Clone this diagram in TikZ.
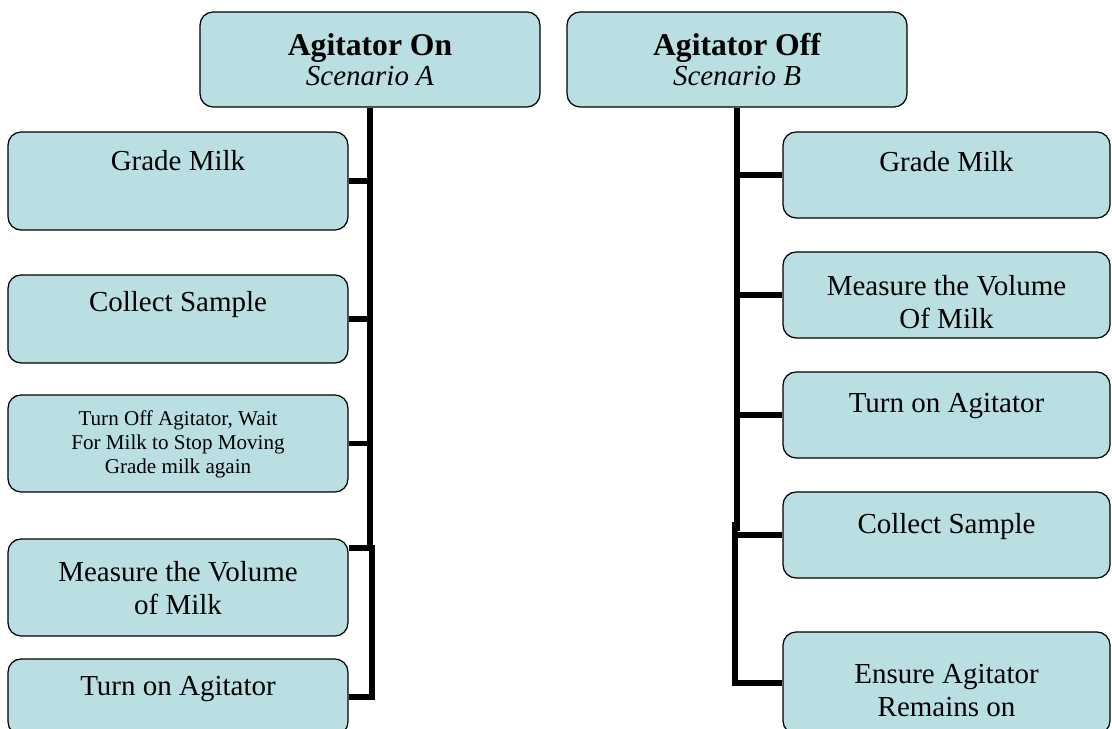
\documentclass[tikz,border=0pt]{standalone}
\usepackage{fontspec}
\setmainfont{Liberation Serif}
\usetikzlibrary{positioning}
\definecolor{boxfill}{RGB}{185,223,227}
\tikzset{stepbox/.style={draw=black, line width=0.7pt, fill=boxfill,
    rounded corners=0.26cm, minimum width=6.8cm, inner sep=0pt}}
\tikzset{steptext/.style={font=\fontsize{16.5}{18.8}\selectfont, align=center,
    inner sep=0pt}}
\tikzset{headbox/.style={stepbox, minimum height=1.9cm, align=center,
    font=\fontsize{16.5}{17}\selectfont}}
\tikzset{spine/.style={line width=3.4pt, black}}

\begin{document}
\begin{tikzpicture}[x=0.02cm, y=-0.02cm]
    \clip (0,0) rectangle (1112,729);

    %naslovi
    \node[headbox] (lhead) at (370,59.5)
        {{\fontsize{18}{17}\selectfont\bfseries Agitator On}\\
         \textit{Scenario A}};
    \node[headbox] (rhead) at (737,59.5)
        {{\fontsize{18}{17}\selectfont\bfseries Agitator Off}\\
         \textit{Scenario B}};

    %lijevo
    \node[stepbox, minimum height=1.96cm] (lgm) at (178,181) {};
    \node[stepbox, minimum height=1.76cm] (lcs) at (178,319) {};
    \node[stepbox, minimum height=1.94cm] (lto) at (178,443.5) {};
    \node[stepbox, minimum height=1.94cm] (lmv) at (178,587.5) {};
    \node[stepbox, minimum height=1.52cm] (lta) at (178,697) {};

    \node[steptext] (lgmt) at (178,161) {Grade Milk};
    \node[steptext] (lcst) at (178,305) {Collect Sample};
    \node[steptext, font=\fontsize{12}{13.7}\selectfont] (ltot) at (178,444)
        {Turn Off Agitator, Wait\\For Milk to Stop Moving\\Grade milk again};
    \node[steptext] (lmvt) at (178,588) {Measure the Volume\\of Milk};
    \node[steptext] (ltat) at (178,689) {Turn on Agitator};

    %desno
    \node[stepbox, minimum width=6.54cm, minimum height=1.72cm] (rgm) at (946.5,175) {};
    \node[stepbox, minimum width=6.54cm, minimum height=1.72cm] (rmv) at (946.5,295) {};
    \node[stepbox, minimum width=6.54cm, minimum height=1.72cm] (rta) at (946.5,415) {};
    \node[stepbox, minimum width=6.54cm, minimum height=1.72cm] (rcs) at (946.5,535) {};
    \node[stepbox, minimum width=6.54cm, minimum height=2.04cm] (ren) at (946.5,683) {};

    \node[steptext] (rgmt) at (946.5,162) {Grade Milk};
    \node[steptext] (rmvt) at (946.5,302) {Measure the Volume\\Of Milk};
    \node[steptext] (rtat) at (946.5,406) {Turn on Agitator};
    \node[steptext] (rcst) at (946.5,527) {Collect Sample};
    \node[steptext] (rent) at (946.5,691) {Ensure Agitator\\Remains on};

    %linije lijevo
    \coordinate (lknee) at (372,548);
    \draw[spine] (lhead.south) -- (370,551);
    \foreach \b in {lgm,lcs,lto}
        \draw[spine] (\b.east) -- (\b.east -| lhead.south);
    \draw[spine] (lknee -| lmv.east) -- (lknee);
    \draw[spine] (372,545) |- (lta.east);

    %linije desno
    \coordinate (rknee) at (735,522);
    \draw[spine] (rhead.south) -- (737,531);
    \foreach \b in {rgm,rmv,rta,rcs}
        \draw[spine] (\b.west) -- (\b.west -| rhead.south);
    \draw[spine] (rknee) |- (ren.west);
\end{tikzpicture}
\end{document}
